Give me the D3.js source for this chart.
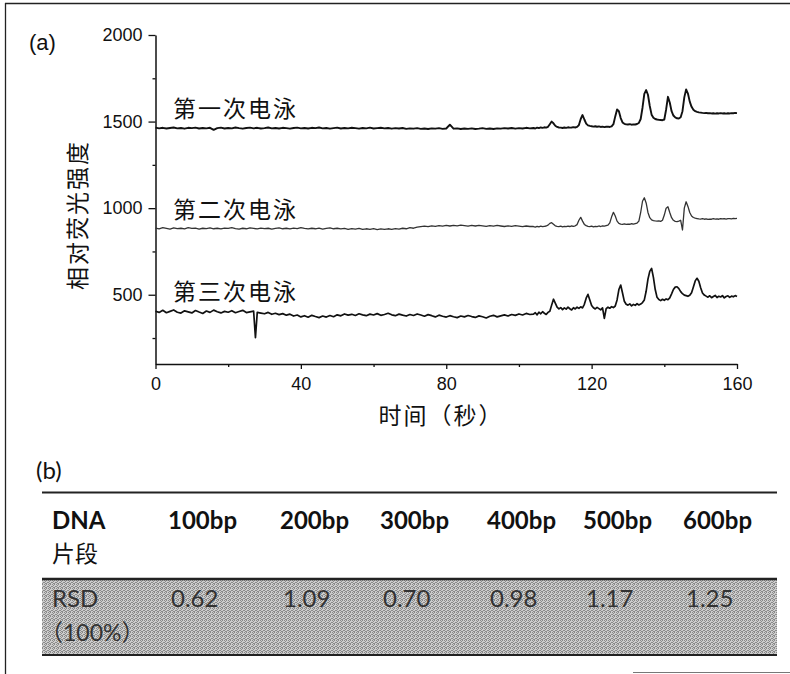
<!DOCTYPE html>
<html>
<head>
<meta charset="utf-8">
<script src="https://cdn.jsdelivr.net/npm/d3@7"></script>
<style>
  body { margin: 0; background: #fff; }
  svg { display: block; }
</style>
</head>
<body>
<svg id="fig" width="790" height="674"></svg>
<script>
// ---- data -------------------------------------------------------------
const runLabels = ["第一次电泳", "第二次电泳", "第三次电泳"];

// electropherograms: [time (s), relative fluorescence]
const run1 = [
  [0,1465],[1,1461],[2,1464],[3,1460],[4,1463],[5,1466],[6,1461],[7,1463],[8,1459],[9,1464],
  [10,1462],[11,1465],[12,1460],[13,1463],[14,1461],[15,1464],[16,1452],[17,1462],[18,1465],[19,1460],
  [20,1463],[21,1461],[22,1466],[23,1462],[24,1459],[25,1463],[26,1465],[27,1461],[28,1464],[29,1460],
  [30,1462],[31,1466],[32,1461],[33,1463],[34,1460],[35,1464],[36,1462],[37,1459],[38,1463],[39,1465],
  [40,1461],[41,1463],[42,1460],[43,1464],[44,1462],[45,1466],[46,1461],[47,1463],[48,1459],[49,1462],
  [50,1465],[51,1460],[52,1463],[53,1461],[54,1464],[55,1462],[56,1459],[57,1463],[58,1461],[59,1465],
  [60,1460],[61,1462],[62,1464],[63,1461],[64,1463],[65,1459],[66,1462],[67,1460],[68,1463],[69,1458],
  [70,1461],[71,1459],[72,1462],[73,1458],[74,1460],[75,1457],[76,1461],[77,1459],[78,1462],[79,1458],
  [80,1460],[81,1482],[82,1459],[83,1461],[84,1457],[85,1460],[86,1458],[87,1461],[88,1457],[89,1459],
  [90,1462],[91,1458],[92,1460],[93,1457],[94,1461],[95,1459],[96,1462],[97,1460],[98,1463],[99,1459],
  [100,1462],[101,1460],[102,1464],[103,1461],
  [104,1463],[104.5,1460],[105,1465],[105.5,1462],[106,1466],[106.5,1464],[107,1467],[107.5,1465],
  [108,1470],[108.5,1485],[109,1500],[109.5,1490],[110,1476],[110.5,1469],[111,1466],[111.5,1465],
  [112,1463],[112.5,1466],[113,1464],[113.5,1467],[114,1465],[114.5,1466],[115,1468],[115.5,1466],
  [116,1469],[116.5,1480],[117,1515],[117.5,1538],[118,1512],[118.5,1488],[119,1478],[119.5,1475],
  [120,1473],[120.5,1471],[121,1473],[121.5,1470],[122,1472],[122.5,1469],[123,1471],[123.5,1468],
  [124,1470],[124.5,1471],[125,1469],[125.5,1472],[126,1485],[126.5,1530],[127,1570],[127.5,1560],
  [128,1520],[128.5,1495],[129,1487],[129.5,1484],[130,1483],[130.5,1485],[131,1482],[131.5,1484],
  [132,1483],[132.5,1486],[133,1492],[133.5,1515],[134,1580],[134.5,1660],[135,1682],[135.5,1655],
  [136,1590],[136.5,1540],[137,1522],[137.5,1515],[138,1512],[138.5,1510],[139,1509],[139.5,1508],
  [140,1512],[140.5,1570],[141,1643],[141.5,1610],[142,1560],[142.5,1535],[143,1524],[143.5,1519],
  [144,1518],[144.5,1525],[145,1560],[145.5,1640],[146,1686],[146.5,1662],[147,1615],[147.5,1585],
  [148,1568],[148.5,1560],[149,1556],[149.5,1553],[150,1552],[150.5,1550],[151,1549],[151.5,1550],
  [152,1548],[152.5,1549],[153,1547],[153.5,1548],[154,1546],[154.5,1548],[155,1547],[155.5,1549],
  [156,1547],[156.5,1548],[157,1546],[157.5,1548],[158,1547],[158.5,1549],[159,1548],[159.5,1550],
  [160,1549]
];

const run2 = [
  [0,885],[1,881],[2,887],[3,883],[4,879],[5,886],[6,882],[7,884],[8,880],[9,887],
  [10,883],[11,885],[12,879],[13,884],[14,882],[15,886],[16,881],[17,884],[18,880],[19,885],
  [20,883],[21,887],[22,882],[23,879],[24,884],[25,881],[26,886],[27,883],[28,880],[29,885],
  [30,882],[31,884],[32,879],[33,883],[34,886],[35,881],[36,884],[37,880],[38,885],[39,882],
  [40,887],[41,883],[42,880],[43,884],[44,881],[45,885],[46,879],[47,883],[48,886],[49,881],
  [50,884],[51,880],[52,883],[53,878],[54,882],[55,879],[56,883],[57,877],[58,881],[59,878],
  [60,882],[61,876],[62,880],[63,877],[64,881],[65,878],[66,882],[67,879],[68,884],[69,881],
  [70,887],[71,884],[72,890],[73,893],[74,896],[75,893],[76,898],[77,895],[78,899],[79,896],
  [80,900],[81,897],[82,901],[83,898],[84,902],[85,899],[86,896],[87,900],[88,897],[89,901],
  [90,898],[91,895],[92,899],[93,896],[94,900],[95,897],[96,894],[97,898],[98,895],[99,899],
  [100,896],[101,893],[102,897],[103,894],
  [104,894],[104.5,891],[105,895],[105.5,892],[106,896],[106.5,893],[107,895],[107.5,897],
  [108,902],[108.5,912],[109,916],[109.5,907],[110,898],[110.5,895],[111,893],[111.5,896],
  [112,892],[112.5,895],[113,893],[113.5,896],[114,894],[114.5,897],[115,895],[115.5,898],
  [116,905],[116.5,930],[117,947],[117.5,925],[118,906],[118.5,899],[119,895],[119.5,893],
  [120,896],[120.5,892],[121,895],[121.5,893],[122,897],[122.5,894],[123,898],[123.5,896],
  [124,899],[124.5,902],[125,915],[125.5,950],[126,976],[126.5,955],[127,925],[127.5,912],
  [128,908],[128.5,906],[129,909],[129.5,906],[130,908],[130.5,907],[131,910],[131.5,908],
  [132,911],[132.5,914],[133,925],[133.5,975],[134,1040],[134.5,1060],[135,1030],[135.5,975],
  [136,945],[136.5,932],[137,928],[137.5,926],[138,925],[138.5,927],[139,924],[139.5,930],
  [140,960],[140.5,1000],[141,1008],[141.5,975],[142,945],[142.5,930],[143,924],[143.5,922],
  [144,925],[144.5,930],[145,874],[145.5,1000],[146,1037],[146.5,1010],[147,975],[147.5,955],
  [148,946],[148.5,942],[149,940],[149.5,938],[150,937],[150.5,939],[151,936],[151.5,938],
  [152,935],[152.5,937],[153,936],[153.5,939],[154,937],[154.5,938],[155,936],[155.5,939],
  [156,938],[156.5,940],[157,937],[157.5,939],[158,940],[158.5,938],[159,941],[159.5,939],
  [160,941]
];

const run3 = [
  [0,405],[1,398],[2,410],[3,396],[4,404],[5,412],[6,399],[7,394],[8,407],[9,401],
  [10,395],[11,409],[12,400],[13,392],[14,406],[15,398],[16,411],[17,402],[18,395],[19,404],
  [20,399],[21,408],[22,396],[23,403],[24,410],[25,397],[26,401],[27,405],[27.5,252],[28,398],
  [29,394],[30,390],[31,398],[32,387],[33,393],[34,385],[35,391],[36,382],[37,388],[38,377],
  [39,383],[40,372],[41,379],[42,370],[43,381],[44,374],[45,368],[46,377],[47,371],[48,380],
  [49,373],[50,384],[51,378],[52,389],[53,382],[54,387],[55,380],[56,390],[57,384],[58,379],
  [59,388],[60,383],[61,391],[62,381],[63,386],[64,393],[65,384],[66,379],[67,388],[68,382],
  [69,377],[70,386],[71,380],[72,389],[73,383],[74,376],[75,385],[76,379],[77,372],[78,382],
  [79,376],[80,371],[81,379],[82,373],[83,368],[84,377],[85,372],[86,380],[87,374],[88,369],
  [89,378],[90,373],[91,366],[92,376],[93,381],[94,372],[95,378],[96,384],[97,377],[98,386],
  [99,381],[100,389],[101,383],[102,392],[103,386],
  [104,388],[104.5,396],[105,384],[105.5,399],[106,390],[106.5,402],[107,393],[107.5,386],
  [108,398],[108.5,405],[109,440],[109.5,474],[110,452],[110.5,428],[111,418],[111.5,426],
  [112,414],[112.5,424],[113,417],[113.5,428],[114,419],[114.5,412],[115,425],[115.5,418],
  [116,428],[116.5,421],[117,430],[117.5,424],[118,445],[118.5,480],[119,502],[119.5,470],
  [120,438],[120.5,425],[121,418],[121.5,427],[122,420],[122.5,413],[123,424],[123.5,363],
  [124,420],[124.5,428],[125,422],[125.5,431],[126,426],[126.5,435],[127,470],[127.5,530],
  [128,556],[128.5,510],[129,462],[129.5,445],[130,440],[130.5,447],[131,436],[131.5,444],
  [132,439],[132.5,448],[133,441],[133.5,446],[134,455],[134.5,470],[135,520],[135.5,590],
  [136,635],[136.5,652],[137,600],[137.5,530],[138,485],[138.5,472],[139,466],[139.5,474],
  [140,468],[140.5,476],[141,471],[141.5,482],[142,505],[142.5,530],[143,544],[143.5,546],
  [144,535],[144.5,518],[145,506],[145.5,498],[146,495],[146.5,491],[147,497],[147.5,512],
  [148,545],[148.5,580],[149,595],[149.5,578],[150,540],[150.5,510],[151,498],[151.5,492],
  [152,486],[152.5,494],[153,483],[153.5,490],[154,496],[154.5,484],[155,491],[155.5,487],
  [156,495],[156.5,482],[157,490],[157.5,494],[158,485],[158.5,492],[159,488],[159.5,495],
  [160,490]
];

const xTicksMajor = [0, 40, 80, 120, 160];
const xTicksMinor = [20, 60, 100, 140];
const yTicksMajor = [500, 1000, 1500, 2000];
const yTicksMinor = [250, 750, 1250, 1750];

const fragments = ["100bp", "200bp", "300bp", "400bp", "500bp", "600bp"];
const rsd = [0.62, 1.09, 0.70, 0.98, 1.17, 1.25];

// ---- drawing ----------------------------------------------------------
const svg = d3.select("#fig");
const CJK = "'Noto Sans CJK SC', 'Noto Sans', sans-serif";
const LATIN = "'Liberation Sans', Arial, sans-serif";
const TABLE = "Lato, 'Noto Sans CJK SC', sans-serif";

// figure frame
const frame = svg.append("g").attr("stroke", "#222").attr("fill", "none");
frame.append("line").attr("x1", 5.5).attr("x2", 5.5).attr("y1", 3).attr("y2", 674).attr("stroke-width", 1.3);
frame.append("line").attr("x1", 5).attr("x2", 790).attr("y1", 3.5).attr("y2", 3.5).attr("stroke-width", 1.3);
frame.append("line").attr("x1", 633).attr("x2", 790).attr("y1", 672.5).attr("y2", 672.5)
  .attr("stroke", "#777").attr("stroke-width", 1);

// panel (a)
const x = d3.scaleLinear().domain([0, 160]).range([155.5, 737]);
const y = d3.scaleLinear().domain([100, 2000]).range([364, 35]);

svg.append("text").text("(a)")
  .attr("x", 29).attr("y", 50)
  .attr("font-family", LATIN).attr("font-size", 22).attr("fill", "#111");

function styleAxis(g) {
  g.select(".domain").attr("stroke", "#111").attr("stroke-width", 1.5);
  g.selectAll(".tick line").attr("stroke", "#111").attr("stroke-width", 1.3);
  g.selectAll(".tick text").attr("font-family", LATIN).attr("font-size", 18).attr("fill", "#111");
}

const plain = d3.format("d");
const xAxisY = y.range()[0];
svg.append("g").attr("transform", `translate(0,${xAxisY})`)
  .call(d3.axisBottom(x).tickValues(xTicksMinor).tickSize(3).tickFormat(""))
  .call(g => g.select(".domain").remove())
  .call(styleAxis);
svg.append("g").attr("transform", `translate(0,${xAxisY})`)
  .call(d3.axisBottom(x).tickValues(xTicksMajor).tickFormat(plain).tickSize(5).tickPadding(8).tickSizeOuter(0))
  .call(styleAxis);

const yAxisX = x.range()[0];
svg.append("g").attr("transform", `translate(${yAxisX},0)`)
  .call(d3.axisLeft(y).tickValues(yTicksMinor).tickSize(3).tickFormat(""))
  .call(g => g.select(".domain").remove())
  .call(styleAxis);
svg.append("g").attr("transform", `translate(${yAxisX},0)`)
  .call(d3.axisLeft(y).tickValues(yTicksMajor).tickFormat(plain).tickSize(7).tickPadding(6).tickSizeOuter(0))
  .call(styleAxis);

// axis titles
svg.append("text").text("时间（秒）")
  .attr("x", 441).attr("y", 424).attr("text-anchor", "middle")
  .attr("font-family", CJK).attr("font-size", 23).attr("letter-spacing", 2).attr("fill", "#111");
svg.append("text").text("相对荧光强度")
  .attr("transform", "translate(86,215) rotate(-90)").attr("text-anchor", "middle")
  .attr("font-family", CJK).attr("font-size", 23).attr("letter-spacing", 2).attr("fill", "#111");

// traces
const line = d3.line().x(d => x(d[0])).y(d => y(d[1]));
const runs = [run1, run2, run3];
const traceStyle = [
  { color: "#111", width: 1.9 },
  { color: "#333", width: 1.3 },
  { color: "#111", width: 1.7 }
];
runs.forEach((run, i) => {
  svg.append("path").datum(run)
    .attr("d", line)
    .attr("fill", "none")
    .attr("stroke", traceStyle[i].color)
    .attr("stroke-width", traceStyle[i].width)
    .attr("stroke-linejoin", "round");

  // run name sits just above the start of its trace
  const start = run.find(d => d[0] === 5);
  svg.append("text").text(runLabels[i])
    .attr("x", x(4.8)).attr("y", y(start[1]) - 10)
    .attr("font-family", CJK).attr("font-size", 23).attr("letter-spacing", 2)
    .attr("fill", "#111");
});

// panel (b): RSD table
svg.append("text").text("(b)")
  .attr("x", 36).attr("y", 479)
  .attr("font-family", TABLE).attr("font-size", 24).attr("fill", "#111");

const tableLeft = 42, tableRight = 777;
const defs = svg.append("defs");
const pat = defs.append("pattern").attr("id", "halftone")
  .attr("width", 4).attr("height", 4).attr("patternUnits", "userSpaceOnUse");
pat.append("rect").attr("width", 4).attr("height", 4).attr("fill", "#cdcdcd");
[[0, 0], [2, 0], [1, 1], [3, 2], [0, 2], [2, 3], [1, 3]].forEach(([px, py]) =>
  pat.append("rect").attr("x", px).attr("y", py).attr("width", 1).attr("height", 1).attr("fill", "#8a8a8a"));

svg.append("rect").attr("x", tableLeft).attr("y", 579)
  .attr("width", tableRight - tableLeft).attr("height", 76)
  .attr("fill", "url(#halftone)");

const rules = [[492.5, 2], [579, 2.5], [655, 2]];
rules.forEach(([ry, w]) =>
  svg.append("line").attr("x1", tableLeft).attr("x2", tableRight)
    .attr("y1", ry).attr("y2", ry).attr("stroke", "#222").attr("stroke-width", w));

const colX = [168, 280, 380, 487, 583, 683];

svg.append("text").text("DNA").attr("x", 52).attr("y", 529)
  .attr("font-family", TABLE).attr("font-weight", 700).attr("font-size", 24).attr("fill", "#111");
svg.append("text").text("片段").attr("x", 52).attr("y", 562)
  .attr("font-family", CJK).attr("font-size", 23).attr("fill", "#111");
svg.append("g").selectAll("text").data(fragments).join("text")
  .text(d => d).attr("x", (d, i) => colX[i]).attr("y", 529)
  .attr("font-family", TABLE).attr("font-weight", 700).attr("font-size", 24).attr("fill", "#111");

svg.append("text").text("RSD").attr("x", 52).attr("y", 607)
  .attr("font-family", TABLE).attr("font-size", 24).attr("fill", "#333");
svg.append("text").text("（100%）").attr("x", 40).attr("y", 641)
  .attr("font-family", TABLE).attr("font-size", 23).attr("fill", "#333");
svg.append("g").selectAll("text").data(rsd).join("text")
  .text(d => d.toFixed(2)).attr("x", (d, i) => colX[i] + 3).attr("y", 607)
  .attr("font-family", TABLE).attr("font-size", 24).attr("fill", "#333");
</script>
</body>
</html>
